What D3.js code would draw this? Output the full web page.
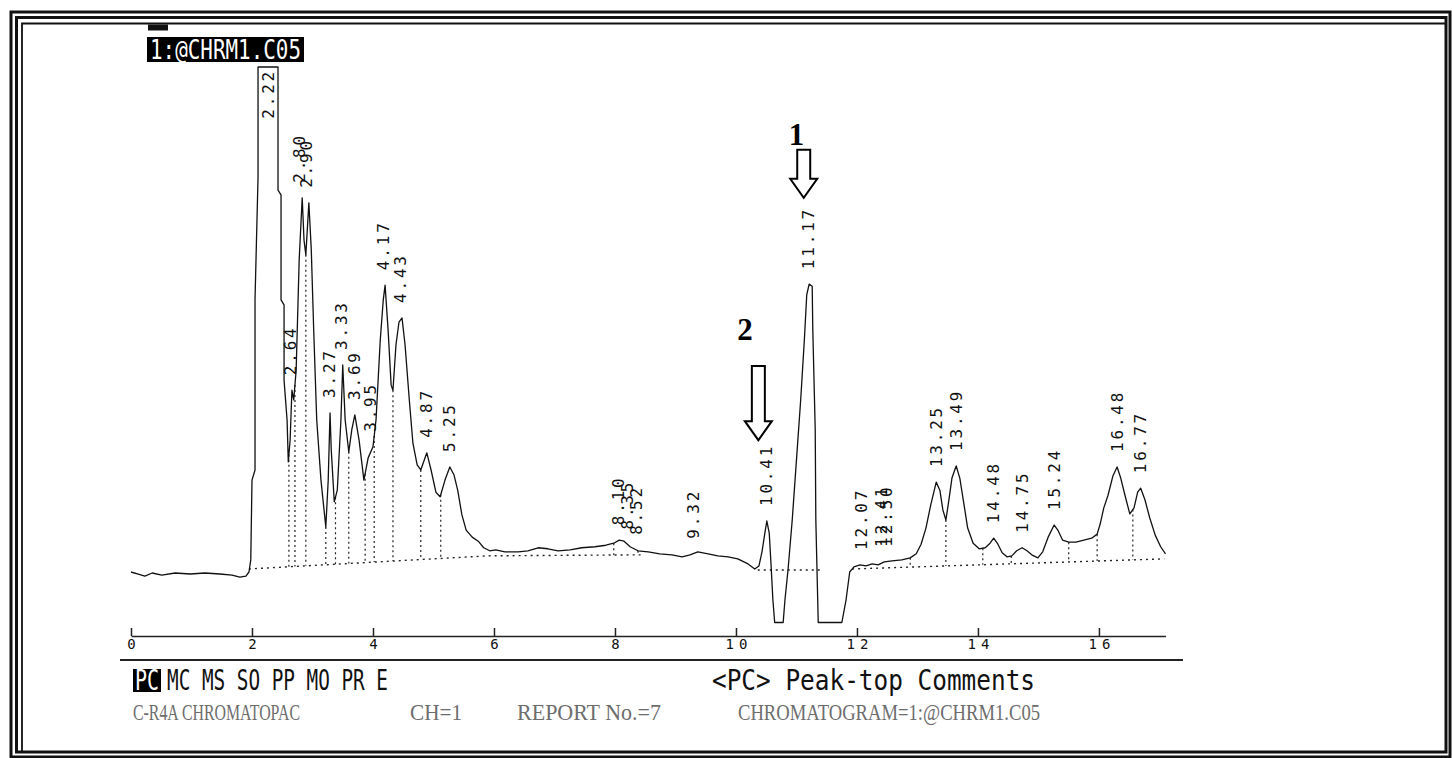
<!DOCTYPE html>
<html lang="en">
<head>
<meta charset="UTF-8">
<title>Chromatogram 1:@CHRM1.C05</title>
<style>
  body { margin: 0; background: #fff; }
  svg { display: block; background: #fff; }
  .frame { fill: none; stroke: #111; }
  .trace { fill: none; stroke: #111; stroke-width: 1.3; stroke-linejoin: round; }
  .base { fill: none; stroke: #222; stroke-width: 1.4; stroke-dasharray: 2,4; }
  .drop { stroke: #222; stroke-width: 1.2; stroke-dasharray: 2,3; }
  .peak { font-family: "DejaVu Sans Mono", monospace; font-size: 16px; letter-spacing: 2.8px; fill: #111; }
  .axis path, .axis line { stroke: #222; stroke-width: 1.5; }
  .axis text { font-family: "DejaVu Sans Mono", monospace; font-size: 14px; letter-spacing: 5px; fill: #111; }
  .mono { font-family: "DejaVu Sans Mono", monospace; }
  .gray { font-family: "Liberation Serif", serif; fill: #6d6d6d; }
  .anno { font-family: "Liberation Serif", serif; font-weight: bold; font-size: 31px; fill: #000; }
  .arrow { fill: #fff; stroke: #000; stroke-width: 2; }
</style>
</head>
<body>
<svg id="chart" width="1452" height="758"></svg>
<script src="https://d3js.org/d3.v7.min.js"></script>
<script>
// detector trace: [time (min), signal]
const trace = [
  [0,0],[0.12,-0.4],[0.23,-0.8],[0.35,-0.2],[0.51,-0.6],[0.73,-0.2],[0.98,-0.4],[1.22,-0.2],
  [1.47,-0.4],[1.67,-0.6],[1.80,-1.0],[1.90,-0.8],[1.95,0],[1.98,2.4],[2.00,18.2],[2.05,20.2],
  [2.05,53.9],[2.10,78.2],[2.10,100],[2.43,100],[2.43,75.6],[2.48,74.7],[2.48,53.9],[2.53,52.9],
  [2.53,38.0],[2.58,30.1],[2.60,21.8],[2.63,26.1],[2.66,36.0],[2.69,34.1],[2.73,40.0],[2.78,61.8],
  [2.83,74.1],[2.86,65.7],[2.89,62.8],[2.94,73.1],[2.98,63.8],[3.02,47.9],[3.07,30.1],[3.14,18.2],
  [3.22,8.9],[3.26,18.2],[3.29,31.5],[3.31,24.2],[3.36,13.9],[3.41,16.2],[3.47,30.1],[3.50,41.0],
  [3.54,30.1],[3.60,23.8],[3.65,28.2],[3.70,31.1],[3.77,26.1],[3.85,18.2],[3.92,22.6],[4.00,24.8],
  [4.05,30.1],[4.12,45.9],[4.17,53.9],[4.20,56.8],[4.25,47.9],[4.30,37.0],[4.33,36.0],[4.38,45.0],
  [4.43,49.5],[4.48,50.3],[4.53,45.0],[4.60,34.1],[4.66,25.5],[4.73,21.2],[4.79,20.2],[4.89,23.6],
  [4.96,20.2],[5.04,15.8],[5.11,14.9],[5.19,18.2],[5.27,20.8],[5.34,19.2],[5.40,16.2],[5.47,11.3],
  [5.54,8.3],[5.64,6.9],[5.74,6.1],[5.83,4.8],[5.93,4.2],[6.03,4.4],[6.18,4.0],[6.40,4.0],
  [6.56,4.2],[6.73,4.8],[6.89,4.6],[7.06,4.2],[7.26,4.4],[7.45,4.8],[7.67,5.0],[7.85,5.3],
  [7.98,5.7],[8.07,6.3],[8.15,6.1],[8.25,5.0],[8.38,4.2],[8.55,4.0],[8.74,3.6],[8.94,3.4],
  [9.11,3.0],[9.24,3.4],[9.37,4.0],[9.54,3.6],[9.70,3.2],[9.87,3.0],[10.03,2.6],[10.20,1.6],
  [10.31,0.6],[10.38,1.2],[10.43,4.0],[10.48,7.9],[10.51,10.1],[10.55,7.7],[10.58,1.4],[10.61,-5.5],
  [10.64,-10],[10.78,-10],[10.81,-5.5],[10.86,0.4],[10.93,10.3],[11.00,22.2],[11.07,34.1],[11.13,45.9],
  [11.17,54.9],[11.21,57.0],[11.26,56.6],[11.27,47.9],[11.31,28.1],[11.32,10.3],[11.36,-10],[11.75,-10],
  [11.82,-5.5],[11.88,0],[11.95,1.0],[12.05,1.4],[12.15,1.2],[12.25,1.6],[12.35,1.4],[12.45,2.0],
  [12.58,2.2],[12.74,2.4],[12.88,2.8],[12.98,3.6],[13.06,5.5],[13.14,8.7],[13.22,13.3],[13.31,17.8],
  [13.37,16.2],[13.42,12.3],[13.47,10.3],[13.52,14.3],[13.57,18.6],[13.64,21.0],[13.70,18.6],[13.77,13.3],
  [13.83,8.7],[13.92,5.7],[14.02,4.6],[14.12,4.8],[14.20,5.7],[14.26,6.7],[14.33,5.5],[14.40,3.8],
  [14.48,3.0],[14.56,3.2],[14.64,4.2],[14.73,4.8],[14.81,4.2],[14.89,3.4],[14.99,2.8],[15.07,4.0],
  [15.16,6.9],[15.26,9.3],[15.32,8.3],[15.40,6.3],[15.50,5.9],[15.62,5.9],[15.75,6.3],[15.88,6.7],
  [15.97,7.5],[16.02,9.5],[16.08,12.7],[16.15,15.2],[16.23,19.0],[16.30,20.8],[16.36,18.6],[16.43,15.2],
  [16.51,11.5],[16.58,12.7],[16.64,15.8],[16.69,16.6],[16.76,14.3],[16.84,10.7],[16.93,7.3],[17.02,5.0],
  [17.10,3.6]
];

// baselines drawn by the integrator
const baselines = [
  [[1.95,0.6],[5.9,3.2],[8.45,3.4]],
  [[10.36,0.4],[11.40,0.4]],
  [[11.92,0.6],[17.08,2.6]]
];

// peak-top comments: printed retention time and where the label sits on the time axis
const peakLabels = ["2.22","2.64","2.80","2.90","3.27","3.33","3.69","3.95","4.17","4.43","4.87","5.25",
  "8.10","8.35","8.52","9.32","10.41","11.17","12.07","12.41","12.50","13.25","13.49","14.48","14.75",
  "15.24","16.48","16.77"];
const peakAt = [2.27,2.63,2.78,2.90,3.28,3.48,3.69,3.96,4.18,4.45,4.88,5.27,
  8.05,8.21,8.35,9.29,10.51,11.20,12.07,12.41,12.48,13.31,13.64,14.26,14.73,
  15.26,16.30,16.69];

// dotted drop lines (peak separation points)
const dropTimes = [2.61,2.71,2.89,3.22,3.38,3.60,3.87,4.02,4.33,4.79,5.12,7.98,8.38,
  12.88,13.47,14.08,14.55,15.50,15.97,16.56];

const tickValues = [0,2,4,6,8,10,12,14,16];

// hand-drawn markers on the printout
const annoText = ["1","2"];
const annoT = [11.0,10.15];
const annoV = [84.5,46.0];
const arrowT = [11.12,10.37];
const arrowTopV = [83.6,40.8];
const arrowTipV = [74.1,26.1];

const svg = d3.select("#chart");

const x = d3.scaleLinear().domain([0, 17.1]).range([131, 1165.5]);
const y = d3.scaleLinear().domain([-10, 100]).range([622.5, 67]);

// frame
svg.append("rect").attr("class", "frame").attr("x", 11).attr("y", 12)
  .attr("width", 1439).attr("height", 745).attr("stroke-width", 3);
svg.append("rect").attr("class", "frame").attr("x", 16.5).attr("y", 17.5)
  .attr("width", 1429.5).attr("height", 734.5).attr("stroke-width", 3);
svg.append("path").attr("class", "frame").attr("d", "M22,752V23.5H1446").attr("stroke-width", 1.8);

// header
svg.append("rect").attr("x", 148).attr("y", 24.5).attr("width", 20).attr("height", 6).attr("fill", "#111");
svg.append("rect").attr("x", 147).attr("y", 37).attr("width", 157).attr("height", 25).attr("fill", "#000");
svg.append("text").attr("class", "mono").attr("x", 150).attr("y", 59)
  .attr("font-size", 26).attr("fill", "#fff")
  .attr("textLength", 151).attr("lengthAdjust", "spacingAndGlyphs")
  .text("1:@CHRM1.C05");

// helpers
function interp(pts, t) {
  for (let i = 1; i < pts.length; i++) {
    const a = pts[i - 1], b = pts[i];
    if (t >= a[0] && t <= b[0]) {
      if (b[0] === a[0]) return Math.max(a[1], b[1]);
      return a[1] + (b[1] - a[1]) * (t - a[0]) / (b[0] - a[0]);
    }
  }
  return null;
}
function baseAt(t) {
  for (const seg of baselines) {
    const v = interp(seg, t);
    if (v !== null) return v;
  }
  return 0;
}
function peakTop(t) {
  let m = interp(trace, t);
  trace.forEach(p => { if (Math.abs(p[0] - t) <= 0.06) m = Math.max(m, p[1]); });
  return m;
}

const line = d3.line().x(d => x(d[0])).y(d => y(d[1]));

// baselines
svg.append("g").selectAll("path").data(baselines).join("path")
  .attr("class", "base").attr("d", line);

// drop lines
svg.append("g").selectAll("line").data(dropTimes).join("line")
  .attr("class", "drop")
  .attr("x1", d => x(d)).attr("x2", d => x(d))
  .attr("y1", d => y(interp(trace, d))).attr("y2", d => y(baseAt(d)));

// trace
svg.append("path").datum(trace).attr("class", "trace").attr("d", line);

// peak labels
const peaks = peakLabels.map((label, i) => {
  const top = peakTop(peakAt[i]);
  const clipped = top >= y.domain()[1];
  return { label, x: x(peakAt[i]), y: clipped ? y(top) + 2 : y(top) - 15, clipped };
});
svg.append("g").selectAll("text").data(peaks).join("text")
  .attr("class", "peak")
  .attr("transform", d => `translate(${d.x},${d.y}) rotate(-90)`)
  .attr("text-anchor", d => d.clipped ? "end" : "start")
  .attr("dominant-baseline", "central")
  .text(d => d.label);

// time axis
const axis = svg.append("g").attr("class", "axis").attr("transform", "translate(0,636)")
  .call(d3.axisBottom(x).tickValues(tickValues).tickSizeInner(-8).tickSizeOuter(0).tickPadding(3));
axis.selectAll("text").attr("dx", 2.5);
svg.append("line").attr("x1", 120).attr("x2", 1183).attr("y1", 660).attr("y2", 660)
  .attr("stroke", "#222").attr("stroke-width", 1.8);

// arrows and markers
const arrows = annoText.map((t, i) => ({
  text: t, tx: x(annoT[i]), ty: y(annoV[i]),
  cx: x(arrowT[i]), top: y(arrowTopV[i]), tip: y(arrowTipV[i])
}));
svg.append("g").selectAll("polygon").data(arrows).join("polygon")
  .attr("class", "arrow")
  .attr("points", d => {
    const s = d.tip - 19;
    return [[d.cx - 6.5, d.top], [d.cx + 6.5, d.top], [d.cx + 6.5, s], [d.cx + 13.5, s],
      [d.cx, d.tip], [d.cx - 13.5, s], [d.cx - 6.5, s]].map(p => p.join(",")).join(" ");
  });
svg.append("g").selectAll("text").data(arrows).join("text")
  .attr("class", "anno").attr("text-anchor", "middle")
  .attr("x", d => d.tx).attr("y", d => d.ty)
  .text(d => d.text);

// menu line
svg.append("rect").attr("x", 133).attr("y", 669).attr("width", 28).attr("height", 23).attr("fill", "#000");
svg.append("text").attr("class", "mono").attr("x", 135).attr("y", 690).attr("font-size", 28)
  .attr("fill", "#fff").attr("textLength", 24).attr("lengthAdjust", "spacingAndGlyphs").text("PC");
svg.append("text").attr("class", "mono").attr("x", 167).attr("y", 690).attr("font-size", 28)
  .attr("fill", "#111").attr("textLength", 221).attr("lengthAdjust", "spacingAndGlyphs")
  .text("MC MS SO PP MO PR E");
svg.append("text").attr("class", "mono").attr("x", 712).attr("y", 690).attr("font-size", 28)
  .attr("fill", "#111").attr("textLength", 323).attr("lengthAdjust", "spacingAndGlyphs")
  .text("<PC> Peak-top Comments");

// footer
const footer = [
  { text: "C-R4A CHROMATOPAC", x: 133, w: 167 },
  { text: "CH=1", x: 410, w: 52 },
  { text: "REPORT No.=7", x: 517, w: 144 },
  { text: "CHROMATOGRAM=1:@CHRM1.C05", x: 738, w: 302 }
];
svg.append("g").selectAll("text").data(footer).join("text")
  .attr("class", "gray").attr("font-size", 24)
  .attr("x", d => d.x).attr("y", 720)
  .attr("textLength", d => d.w).attr("lengthAdjust", "spacingAndGlyphs")
  .text(d => d.text);
</script>
</body>
</html>
